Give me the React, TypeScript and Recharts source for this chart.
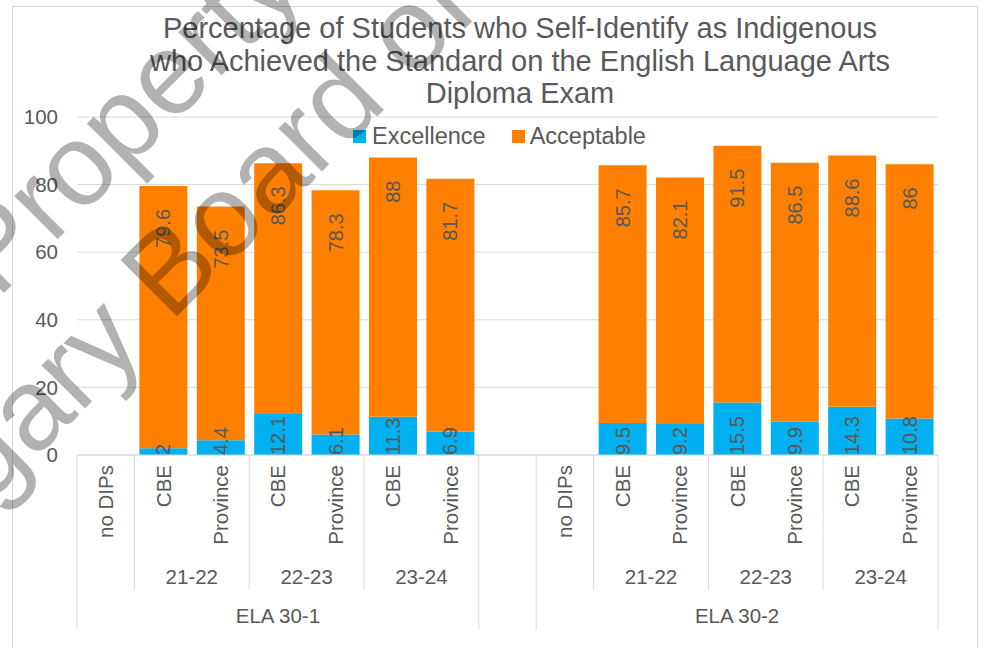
import React from "react";
import {
  BarChart,
  Bar,
  XAxis,
  YAxis,
  CartesianGrid,
  LabelList,
} from "recharts";

const TITLE = [
  "Percentage of Students who Self-Identify as Indigenous",
  "who Achieved the Standard on the English Language Arts",
  "Diploma Exam",
];

// one entry per category slot (the empty slot separates the two courses)
const slots = ["no DIPs", "CBE", "Province", "CBE", "Province", "CBE", "Province", "",
  "no DIPs", "CBE", "Province", "CBE", "Province", "CBE", "Province"];
const years = ["", "21-22", "21-22", "22-23", "22-23", "23-24", "23-24", "",
  "", "21-22", "21-22", "22-23", "22-23", "23-24", "23-24"];
const courses = ["ELA 30-1", "ELA 30-1", "ELA 30-1", "ELA 30-1", "ELA 30-1", "ELA 30-1", "ELA 30-1", "",
  "ELA 30-2", "ELA 30-2", "ELA 30-2", "ELA 30-2", "ELA 30-2", "ELA 30-2", "ELA 30-2"];
const excellence = [null, 2, 4.4, 12.1, 6.1, 11.3, 6.9, null,
  null, 9.5, 9.2, 15.5, 9.9, 14.3, 10.8];
const acceptable = [null, 79.6, 73.5, 86.3, 78.3, 88, 81.7, null,
  null, 85.7, 82.1, 91.5, 86.5, 88.6, 86];
const yTicks = [0, 20, 40, 60, 80, 100];

const BLUE = "#00B0F0";
const ORANGE = "#FF8000";
const TEXT = "#595959";
const GRID = "#d9d9d9";
const FONT = "'Liberation Sans', Arial, sans-serif";

const W = 984;
const H = 648;
const MARGIN = { top: 117, right: 46, bottom: 0, left: 0 };
const Y_AXIS_W = 77;
const X_AXIS_H = 193;
const SLOT_W = (W - MARGIN.right - Y_AXIS_W) / slots.length;

const data = slots.map((label, i) => ({
  id: `s${i}`,
  label,
  exc: excellence[i],
  rest: acceptable[i] == null ? null : +(acceptable[i]! - excellence[i]!).toFixed(1),
  acc: acceptable[i],
}));

function spanLength(arr: string[], i: number) {
  let n = 0;
  while (i + n < arr.length && arr[i + n] === arr[i]) n++;
  return n;
}

function CategoryTick(props: any) {
  const { x, y, index } = props;
  const i = index as number;
  const left = x - SLOT_W / 2;
  const right = x + SLOT_W / 2;
  const out: React.ReactNode[] = [];
  const line = (lx: number, len: number, k: string) => (
    <line key={k} x1={lx} x2={lx} y1={y} y2={y + len} stroke={GRID} strokeWidth={1} />
  );

  if (slots[i]) {
    out.push(
      <text key="t" x={x} y={y + 10} transform={`rotate(-90 ${x} ${y + 10})`}
        textAnchor="end" dominantBaseline="central" fill={TEXT} fontSize={20.5} fontFamily={FONT}>
        {slots[i]}
      </text>
    );
  }
  if (courses[i]) {
    if (i === 0 || courses[i - 1] !== courses[i]) out.push(line(left, 175, "gl"));
    else if (years[i] !== years[i - 1]) out.push(line(left, 135, "yl"));
    if (i === courses.length - 1 || courses[i + 1] !== courses[i]) out.push(line(right, 175, "gr"));
  }
  if (years[i] && (i === 0 || years[i - 1] !== years[i])) {
    const cx = left + (spanLength(years, i) * SLOT_W) / 2;
    out.push(
      <text key="y" x={cx} y={y + 121} textAnchor="middle" dominantBaseline="central"
        fill={TEXT} fontSize={20.5} fontFamily={FONT}>{years[i]}</text>
    );
  }
  if (courses[i] && (i === 0 || courses[i - 1] !== courses[i])) {
    const cx = left + (spanLength(courses, i) * SLOT_W) / 2;
    out.push(
      <text key="c" x={cx} y={y + 160} textAnchor="middle" dominantBaseline="central"
        fill={TEXT} fontSize={20.5} fontFamily={FONT}>{courses[i]}</text>
    );
  }
  return <g>{out}</g>;
}

function AccLabel(p: any) {
  if (p.value == null) return null;
  const cx = p.x + p.width / 2;
  const ty = p.y + 23;
  return (
    <text x={cx} y={ty} transform={`rotate(-90 ${cx} ${ty})`} textAnchor="end"
      dominantBaseline="central" fill={TEXT} fontSize={20} fontFamily={FONT}>
      {p.value}
    </text>
  );
}

function ExcLabel(p: any) {
  if (p.value == null) return null;
  const cx = p.x + p.width / 2;
  const ty = p.y + p.height;
  return (
    <text x={cx} y={ty} transform={`rotate(-90 ${cx} ${ty})`} textAnchor="start"
      dominantBaseline="central" fill={TEXT} fontSize={20} fontFamily={FONT}>
      {p.value}
    </text>
  );
}

export default function App() {
  return (
    <div style={{ position: "absolute", left: 0, top: 0, width: W, height: H, overflow: "hidden", background: "#fff" }}>
      <div style={{ position: "absolute", left: 12, top: 6, width: 964, height: 700, border: `1px solid ${GRID}` }} />
      <div style={{
        position: "absolute", left: 120, top: 12, width: 800, textAlign: "center",
        fontFamily: FONT, fontSize: 29, lineHeight: "32.5px", color: TEXT,
      }}>
        {TITLE.map((t) => <div key={t}>{t}</div>)}
      </div>
      <div style={{
        position: "absolute", left: 353, top: 122, height: 28, display: "flex", alignItems: "center",
        fontFamily: FONT, fontSize: 23.5, lineHeight: "28px", color: TEXT,
      }}>
        <span style={{ width: 13, height: 13, background: BLUE, marginRight: 6 }} />
        <span style={{ marginRight: 26 }}>Excellence</span>
        <span style={{ width: 13, height: 13, background: ORANGE, marginRight: 5 }} />
        <span>Acceptable</span>
      </div>
      <div style={{ position: "absolute", left: 0, top: 0 }}>
        <BarChart width={W} height={H} data={data} margin={MARGIN}>
          <CartesianGrid vertical={false} stroke={GRID} />
          <XAxis dataKey="id" height={X_AXIS_H} interval={0} tickLine={false} tickSize={0} tickMargin={0}
            axisLine={{ stroke: GRID }} tick={<CategoryTick />} />
          <YAxis width={Y_AXIS_W} domain={[0, 100]} ticks={yTicks} axisLine={false} tickLine={false}
            tickMargin={13} tick={{ fill: TEXT, fontSize: 20.5, fontFamily: FONT }} />
          <Bar dataKey="exc" stackId="a" fill={BLUE} barSize={48} isAnimationActive={false}>
            <LabelList dataKey="exc" content={<ExcLabel />} />
          </Bar>
          <Bar dataKey="rest" stackId="a" fill={ORANGE} barSize={48} isAnimationActive={false}>
            <LabelList dataKey="acc" content={<AccLabel />} />
          </Bar>
        </BarChart>
      </div>
      {/* watermark */}
      <svg width={W} height={H} style={{ position: "absolute", left: 0, top: 0, pointerEvents: "none" }}>
        <g transform="rotate(-45)" fontFamily={FONT} fontSize={116} fill="#000" fillOpacity={0.3}>
          <text x={-214} y={210}>Property of</text>
          <text x={-540} y={349}>Calgary Board of Education</text>
        </g>
      </svg>
    </div>
  );
}
